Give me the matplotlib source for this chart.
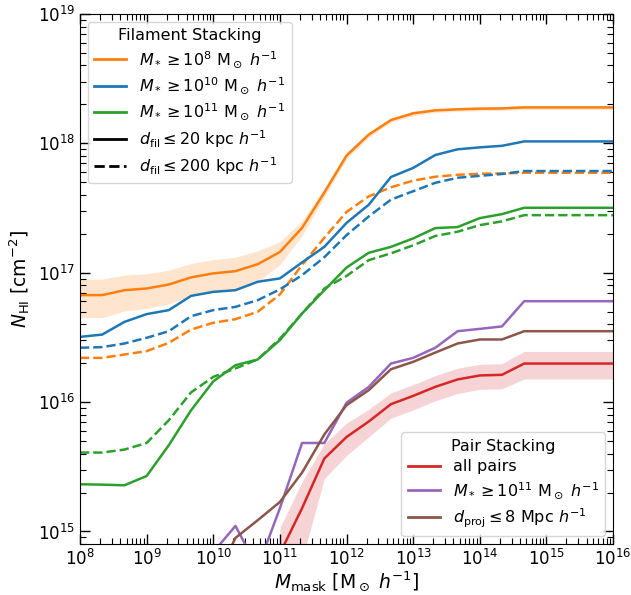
import numpy as np
import matplotlib
matplotlib.use("Agg")
import matplotlib.pyplot as plt
from matplotlib.lines import Line2D
from matplotlib.ticker import LogLocator, NullFormatter

# mask mass grid (log10 M_mask)
logM = [8.0, 8.333, 8.667, 9.0, 9.333, 9.667, 10.0, 10.333, 10.667, 11.0, 11.333, 11.667,
        12.0, 12.333, 12.667, 13.0, 13.333, 13.667, 14.0, 14.333, 14.667, 15.0, 15.333,
        15.667, 16.0]

# Filament stacking, log10 N_HI
fil_m8_20 = [16.827, 16.827, 16.865, 16.878, 16.909, 16.964, 16.995, 17.012, 17.066, 17.16,
             17.347, 17.62, 17.905, 18.067, 18.18, 18.232, 18.255, 18.263, 18.268, 18.27,
             18.278, 18.278, 18.278, 18.278, 18.278]
fil_m8_20_relerr = [0.33, 0.33, 0.31, 0.30, 0.29, 0.28, 0.28, 0.28, 0.27, 0.20, 0.13, 0.08,
                    0.06, 0.05, 0.04, 0.04, 0.035, 0.035, 0.035, 0.035, 0.035, 0.035, 0.035,
                    0.035, 0.035]
fil_m8_200 = [16.342, 16.342, 16.368, 16.394, 16.458, 16.561, 16.613, 16.641, 16.698, 16.832,
              17.06, 17.27, 17.47, 17.59, 17.66, 17.712, 17.742, 17.757, 17.765, 17.768,
              17.773, 17.773, 17.773, 17.773, 17.773]
fil_m10_20 = [16.504, 16.522, 16.62, 16.68, 16.711, 16.821, 16.852, 16.865, 16.93, 16.956,
              17.08, 17.2, 17.385, 17.525, 17.74, 17.81, 17.91, 17.954, 17.969, 17.981,
              18.015, 18.015, 18.015, 18.015, 18.015]
fil_m10_200 = [16.42, 16.425, 16.453, 16.497, 16.548, 16.664, 16.711, 16.736, 16.788, 16.871,
               16.981, 17.12, 17.29, 17.435, 17.565, 17.63, 17.695, 17.734, 17.749, 17.763,
               17.786, 17.786, 17.786, 17.786, 17.786]
fil_m11_20 = [15.365, 15.362, 15.357, 15.429, 15.667, 15.937, 16.16, 16.285, 16.329, 16.479,
              16.685, 16.865, 17.04, 17.154, 17.2, 17.265, 17.345, 17.353, 17.422, 17.453,
              17.502, 17.502, 17.502, 17.502, 17.502]
fil_m11_200 = [15.61, 15.61, 15.633, 15.684, 15.86, 16.075, 16.195, 16.26, 16.33, 16.49,
               16.685, 16.878, 16.975, 17.097, 17.15, 17.212, 17.284, 17.317, 17.368, 17.397,
               17.445, 17.445, 17.445, 17.445, 17.445]

# Pair stacking (start at grid index given)
pair_m11_start = 6
pair_m11 = [14.84, 15.043, 14.72, 15.18, 15.684, 15.684, 15.995, 16.117, 16.298, 16.342,
            16.42, 16.548, 16.566, 16.585, 16.78, 16.78, 16.78, 16.78, 16.78]
pair_dproj_start = 6
pair_dproj = [14.6, 14.95, 15.087, 15.228, 15.455, 15.75, 15.976, 16.092, 16.254, 16.311,
              16.383, 16.453, 16.484, 16.484, 16.548, 16.548, 16.548, 16.548, 16.548]
pair_all_start = 9
pair_all = [14.83, 15.18, 15.564, 15.73, 15.85, 15.984, 16.048, 16.118, 16.175, 16.206,
            16.211, 16.298, 16.298, 16.298, 16.298, 16.298]
pair_all_relerr = [0.58, 0.6, 0.3, 0.28, 0.24, 0.22, 0.22, 0.22, 0.22, 0.22, 0.22, 0.24,
                   0.24, 0.24, 0.24, 0.24]

M = 10 ** np.array(logM)
p = lambda a: 10 ** np.array(a)

fig = plt.figure(figsize=(6.31, 5.95), dpi=100)
ax = fig.add_axes([0.1268, 0.0857, 0.8447, 0.8908])

lw = 1.8
c_or, c_bl, c_gr = 'tab:orange', 'tab:blue', 'tab:green'
c_rd, c_pu, c_br = 'tab:red', 'tab:purple', 'tab:brown'

y = p(fil_m8_20)
e = y * np.array(fil_m8_20_relerr)
ax.fill_between(M, y - e, y + e, color=c_or, alpha=0.2, lw=0)
ax.plot(M, y, color=c_or, lw=lw)
ax.plot(M, p(fil_m8_200), color=c_or, lw=lw, ls='--')
ax.plot(M, p(fil_m10_20), color=c_bl, lw=lw)
ax.plot(M, p(fil_m10_200), color=c_bl, lw=lw, ls='--')
ax.plot(M, p(fil_m11_20), color=c_gr, lw=lw)
ax.plot(M, p(fil_m11_200), color=c_gr, lw=lw, ls='--')

Mr = M[pair_all_start:]
y = p(pair_all)
e = y * np.array(pair_all_relerr)
ax.fill_between(Mr, y - e, y + e, color=c_rd, alpha=0.2, lw=0)
ax.plot(Mr, y, color=c_rd, lw=lw)
ax.plot(M[pair_m11_start:], p(pair_m11), color=c_pu, lw=lw)
ax.plot(M[pair_dproj_start:], p(pair_dproj), color=c_br, lw=lw)

ax.set_xscale('log')
ax.set_yscale('log')
ax.set_xlim(1e8, 1e16)
ax.set_ylim(8e14, 1e19)
ax.xaxis.set_major_locator(LogLocator(base=10, numticks=20))
ax.xaxis.set_minor_locator(LogLocator(base=10, subs=np.arange(2, 10), numticks=100))
ax.xaxis.set_minor_formatter(NullFormatter())
ax.yaxis.set_minor_locator(LogLocator(base=10, subs=np.arange(2, 10), numticks=100))
ax.yaxis.set_minor_formatter(NullFormatter())
ax.tick_params(which='both', direction='in', top=True, right=True, labelsize=12)
ax.tick_params(which='major', length=7, width=1)
ax.tick_params(which='minor', length=4, width=0.8)

ax.set_xlabel(r'$M_{\rm mask}$ [M$_\odot$ $h^{-1}$]', fontsize=13.5, labelpad=1)
ax.set_ylabel(r'$N_{\rm HI}$ [cm$^{-2}$]', fontsize=13.5)

h1 = [Line2D([], [], color=c_or, lw=2),
      Line2D([], [], color=c_bl, lw=2),
      Line2D([], [], color=c_gr, lw=2),
      Line2D([], [], color='k', lw=2),
      Line2D([], [], color='k', lw=2, ls='--')]
l1 = [r'$M_* \geq 10^{8}$ M$_\odot$ $h^{-1}$',
      r'$M_* \geq 10^{10}$ M$_\odot$ $h^{-1}$',
      r'$M_* \geq 10^{11}$ M$_\odot$ $h^{-1}$',
      r'$d_{\rm fil} \leq 20$ kpc $h^{-1}$',
      r'$d_{\rm fil} \leq 200$ kpc $h^{-1}$']
leg1 = ax.legend(h1, l1, title='Filament Stacking', loc='upper left', fontsize=11.5,
                 title_fontsize=11.5, labelspacing=0.35)
ax.add_artist(leg1)

h2 = [Line2D([], [], color=c_rd, lw=2),
      Line2D([], [], color=c_pu, lw=2),
      Line2D([], [], color=c_br, lw=2)]
l2 = ['all pairs',
      r'$M_* \geq 10^{11}$ M$_\odot$ $h^{-1}$',
      r'$d_{\rm proj} \leq 8$ Mpc $h^{-1}$']
ax.legend(h2, l2, title='Pair Stacking', loc='lower right', fontsize=11.5,
          title_fontsize=11.5, labelspacing=0.35)

fig.savefig('out.png', dpi=100)
